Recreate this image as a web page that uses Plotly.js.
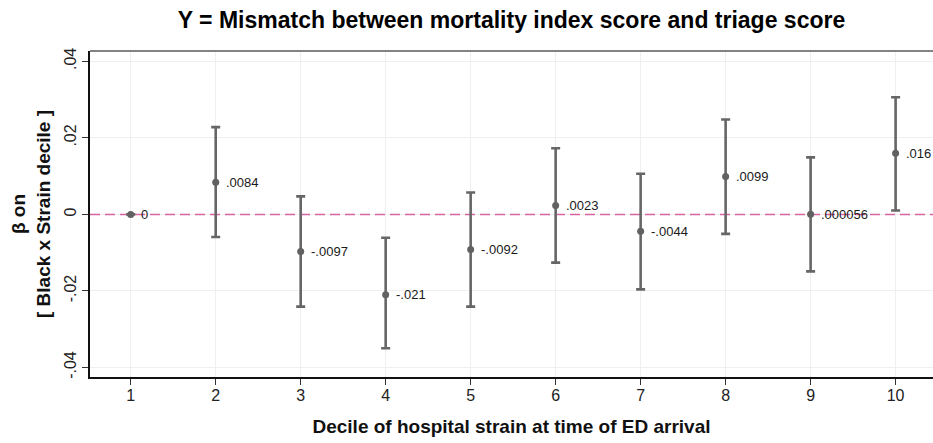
<!DOCTYPE html>
<html>
<head>
<meta charset="utf-8">
<script src="https://cdn.plot.ly/plotly-3.0.1.min.js"></script>
<style>
  html, body { margin: 0; padding: 0; background: #ffffff; }
  #chart { width: 933px; height: 443px; }
</style>
</head>
<body>
<div id="chart"></div>
<script>
// Decile of hospital strain (x) and the estimated coefficient with its 95% CI
const deciles = [1, 2, 3, 4, 5, 6, 7, 8, 9, 10];
const beta    = [0, 0.0084, -0.0097, -0.021, -0.0092, 0.0023, -0.0044, 0.0099, 0.000056, 0.016];
const ciHigh  = [0, 0.0228, 0.0047, -0.0061, 0.0057, 0.0173, 0.0106, 0.0248, 0.0149, 0.0306];
const ciLow   = [0, -0.0059, -0.0241, -0.0350, -0.0241, -0.0126, -0.0196, -0.0051, -0.0149, 0.0010];
const betaLabels = ["0", ".0084", "-.0097", "-.021", "-.0092", ".0023", "-.0044", ".0099", ".000056", ".016"];
const yTickVals = [-0.04, -0.02, 0, 0.02, 0.04];
const yTickText = ["-.04", "-.02", "0", ".02", ".04"];

const errPlus  = beta.map((b, i) => ciHigh[i] - b);
const errMinus = beta.map((b, i) => b - ciLow[i]);

const FONT = "Liberation Sans, Arial, sans-serif";
const MARK = "#616161";
const X_RANGE = [0.521, 10.44];

// zero reference line drawn first so the estimates sit on top of it
const zeroLine = {
  type: "scatter",
  mode: "lines",
  x: X_RANGE,
  y: [0, 0],
  line: { color: "#d7649f", width: 1.5, dash: "10px,5px" },
  hoverinfo: "skip",
  showlegend: false
};

const estimates = {
  type: "scatter",
  mode: "markers",
  x: deciles,
  y: beta,
  marker: { color: MARK, size: 7 },
  error_y: {
    type: "data",
    symmetric: false,
    array: errPlus,
    arrayminus: errMinus,
    color: "#666666",
    thickness: 2.6,
    width: 4.5
  },
  cliponaxis: false,
  hoverinfo: "skip",
  showlegend: false
};

// value labels placed just to the right of each point
const valueLabels = deciles.map((d, i) => ({
  x: d, y: beta[i], xref: "x", yref: "y",
  text: betaLabels[i],
  showarrow: false,
  xanchor: "left", yanchor: "middle",
  xshift: 8,
  font: { family: FONT, size: 13, color: "#1a1a1a" }
}));

const layout = {
  width: 933,
  height: 443,
  margin: { l: 90, r: 0, t: 51, b: 66 },
  paper_bgcolor: "#ffffff",
  plot_bgcolor: "#ffffff",
  font: { family: FONT, color: "#222222" },
  title: {
    text: "<b>Y = Mismatch between mortality index score and triage score</b>",
    font: { family: FONT, size: 23, color: "#000000" },
    x: 0.5, xref: "paper",
    y: 0.955, yref: "container", yanchor: "middle"
  },
  xaxis: {
    range: X_RANGE,
    tickvals: deciles,
    ticks: "outside",
    ticklen: 6,
    tickwidth: 1,
    tickcolor: "#333333",
    ticklabelstandoff: -3,
    tickfont: { family: FONT, size: 16, color: "#222222" },
    showgrid: true,
    gridcolor: "#efefef",
    gridwidth: 1,
    zeroline: false,
    showline: true,
    linecolor: "#111111",
    linewidth: 2,
    title: {
      text: "<b>Decile of hospital strain at time of ED arrival</b>",
      font: { family: FONT, size: 19, color: "#111111" },
      standoff: 16
    }
  },
  yaxis: {
    range: [-0.0425, 0.0427],
    tickvals: yTickVals,
    ticktext: yTickText,
    tickangle: -90,
    ticks: "outside",
    ticklen: 6,
    tickwidth: 1,
    tickcolor: "#333333",
    tickfont: { family: FONT, size: 16, color: "#222222" },
    showgrid: true,
    gridcolor: "#efefef",
    gridwidth: 1,
    zeroline: false,
    showline: true,
    linecolor: "#111111",
    linewidth: 2,
    title: {
      text: "<b>β on<br>[ Black x Strain decile ]</b>",
      font: { family: FONT, size: 19, color: "#111111" },
      standoff: 6
    }
  },
  annotations: valueLabels,
  shapes: [
    // upper frame edge
    {
      type: "line", xref: "paper", yref: "paper",
      x0: 0, x1: 1, y0: 1, y1: 1,
      line: { color: "#5a5a5a", width: 1.5 }
    }
  ]
};

Plotly.newPlot("chart", [zeroLine, estimates], layout, { staticPlot: true, displayModeBar: false });
</script>
</body>
</html>
